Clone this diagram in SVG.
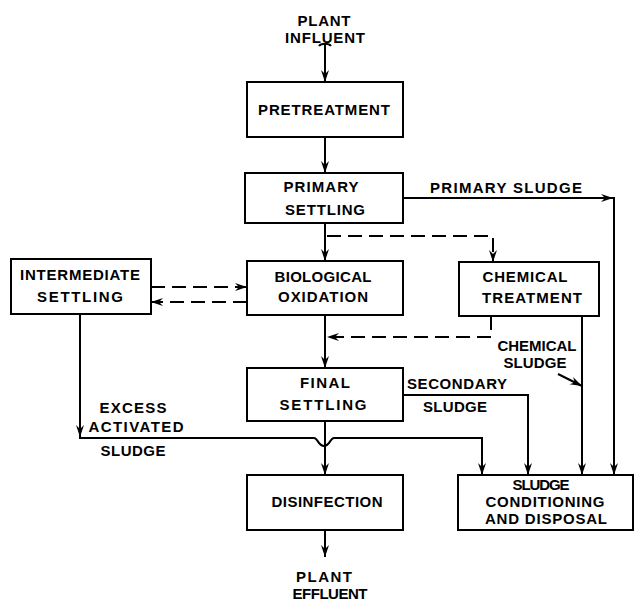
<svg xmlns="http://www.w3.org/2000/svg" width="634" height="602" viewBox="0 0 634 602">
<style>
  .box { fill: #fff; stroke: #000; stroke-width: 2; }
  .ln { fill: none; stroke: #000; stroke-width: 2; }
  .dash { fill: none; stroke: #000; stroke-width: 2; stroke-dasharray: 14 7; }
  text { font-family: "Liberation Sans", Arial, sans-serif; font-weight: bold; font-size: 15px; fill: #000; text-anchor: middle; }
</style>
<defs>
  <marker id="arr" markerUnits="userSpaceOnUse" markerWidth="14" markerHeight="10" refX="12" refY="4" orient="auto" viewBox="0 0 14 8">
    <path d="M0,0 L12,4 L0,8 L4,4 z" fill="#000"/>
  </marker>
</defs>
<rect width="634" height="602" fill="#fff"/>

<g id="connectors">
  <path class="ln" d="M319,46 C321,43 329,43 331,46"/>
  <path class="ln" d="M325,44 V82" marker-end="url(#arr)"/>
  <path class="ln" d="M325,137 V173" marker-end="url(#arr)"/>
  <path class="ln" d="M325,223 V261" marker-end="url(#arr)"/>
  <path class="dash" d="M327,236 H493 V262" marker-end="url(#arr)"/>
  <path class="ln" d="M403,198 H613" marker-end="url(#arr)"/>
  <path class="ln" d="M614,197 V475" marker-end="url(#arr)"/>
  <path class="dash" d="M151,287 H247" marker-end="url(#arr)"/>
  <path class="dash" d="M247,302 H151" marker-end="url(#arr)"/>
  <path class="ln" d="M325,315 V368" marker-end="url(#arr)"/>
  <path class="dash" d="M491,316 V337 H327" marker-end="url(#arr)"/>
  <path class="ln" d="M582,316 V475" marker-end="url(#arr)"/>
  <path class="ln" d="M558,374 L582,386" marker-end="url(#arr)"/>
  <path class="ln" d="M403,395 H528 V475" marker-end="url(#arr)"/>
  <path class="ln" d="M80,314 V437" marker-end="url(#arr)"/>
  <path class="ln" d="M79,438 H314 C318,438 318,446 324,446 C330,446 330,438 334,438 H482 V475" marker-end="url(#arr)"/>
  <path class="ln" d="M325,421 V475" marker-end="url(#arr)"/>
  <path class="ln" d="M325,530 V557" marker-end="url(#arr)"/>
</g>

<g id="influent">
  <text x="324" y="26" textLength="53">PLANT</text>
  <text x="325" y="43" textLength="80">INFLUENT</text>
</g>
<g id="pretreatment">
  <rect class="box" x="247" y="82" width="156" height="55"/>
  <text x="324" y="115" textLength="132">PRETREATMENT</text>
</g>
<g id="primary-settling">
  <rect class="box" x="245" y="173" width="158" height="50"/>
  <text x="321" y="192" textLength="75">PRIMARY</text>
  <text x="325" y="215" textLength="80">SETTLING</text>
</g>
<g id="intermediate-settling">
  <rect class="box" x="11" y="259" width="140" height="55"/>
  <text x="80" y="280" textLength="120">INTERMEDIATE</text>
  <text x="80" y="302" textLength="86">SETTLING</text>
</g>
<g id="biological-oxidation">
  <rect class="box" x="247" y="261" width="156" height="54"/>
  <text x="323" y="282" textLength="97">BIOLOGICAL</text>
  <text x="323" y="302" textLength="90">OXIDATION</text>
</g>
<g id="chemical-treatment">
  <rect class="box" x="459" y="262" width="140" height="54"/>
  <text x="525" y="282" textLength="85">CHEMICAL</text>
  <text x="532" y="303" textLength="100">TREATMENT</text>
</g>
<g id="final-settling">
  <rect class="box" x="247" y="368" width="156" height="53"/>
  <text x="325" y="388" textLength="50">FINAL</text>
  <text x="323" y="410" textLength="87">SETTLING</text>
</g>
<g id="disinfection">
  <rect class="box" x="247" y="475" width="156" height="55"/>
  <text x="327" y="507" textLength="111">DISINFECTION</text>
</g>
<g id="sludge-conditioning">
  <rect class="box" x="458" y="475" width="175" height="55"/>
  <text x="541" y="490" textLength="57">SLUDGE</text>
  <text x="545" y="507" textLength="119">CONDITIONING</text>
  <text x="546" y="524" textLength="122">AND DISPOSAL</text>
</g>
<g id="effluent">
  <text x="324" y="582" textLength="56">PLANT</text>
  <text x="330" y="599" textLength="75">EFFLUENT</text>
</g>
<g id="labels">
  <text x="506" y="193" textLength="152">PRIMARY SLUDGE</text>
  <text x="537" y="351" textLength="79">CHEMICAL</text>
  <text x="535" y="368" textLength="63">SLUDGE</text>
  <text x="457" y="389" textLength="100">SECONDARY</text>
  <text x="455" y="412" textLength="64">SLUDGE</text>
  <text x="133" y="413" textLength="67">EXCESS</text>
  <text x="136" y="432" textLength="95">ACTIVATED</text>
  <text x="133" y="456" textLength="65">SLUDGE</text>
</g>
</svg>
